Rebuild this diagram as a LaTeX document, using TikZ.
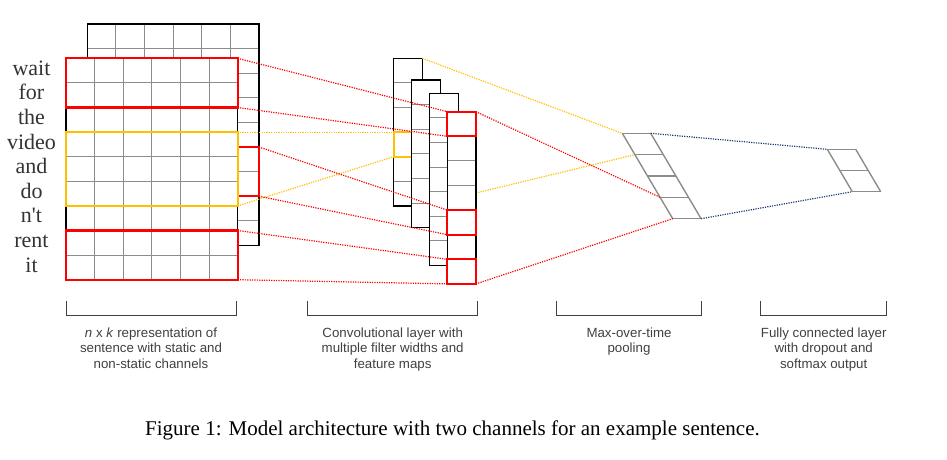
\documentclass[tikz,border=0pt]{standalone}
\usepackage{fontspec}
\setmainfont{Liberation Serif}
\setsansfont{Liberation Sans}
\usetikzlibrary{positioning,backgrounds}

\definecolor{boxred}{HTML}{FF0000}
\definecolor{boxgold}{HTML}{FFC000}
\definecolor{linkblue}{HTML}{1F3B73}
\definecolor{cellgray}{HTML}{8C8C8C}
\definecolor{labelgray}{HTML}{404040}

\tikzset{
    cell/.style={draw=cellgray, line width=1pt},
    hilite/.style={draw=#1, line width=2.2pt, inner sep=0pt, outer sep=0pt, minimum width=28.6pt, anchor=north west},
    link/.style={draw=#1, line width=1.2pt, dash pattern=on 1.2pt off 1.2pt},
    slab/.style={draw=cellgray, line width=1.4pt},
    bracket/.style={draw=labelgray, line width=1pt},
    stage/.style={font=\sffamily\fontsize{13.3}{15.5}\selectfont, text=labelgray, align=center, inner sep=0pt},
    word/.style={font=\fontsize{22}{24}\selectfont, text=black!80, anchor=base},
}

% name, x, y, columns, rows
\newcommand{\cellgrid}[5]{%
    \node[fill=white, inner sep=0pt, outer sep=0pt, anchor=north west, minimum width=#4*28.6pt, minimum height=#5*24.6pt] (#1) at (#2,#3) {} ;
    \foreach \r in {1,...,#5} \draw[cell] (#2,#3+\r*24.6) -- ++(#4*28.6,0) ;
    \foreach \c in {1,...,#4} \draw[cell] (#2+\c*28.6,#3) -- ++(0,#5*24.6) ;
    \draw[line width=1.2pt] (#1.north west) rectangle (#1.south east) ;
}

\begin{document}
\begin{tikzpicture}[x=1pt, y=-1pt]
    \useasboundingbox (0,0) rectangle (947,460) ;

    % sentence matrix, two channels
    \cellgrid{back}{87.3}{24}{6}{9}
    \node[hilite=boxred, minimum height=49.2pt] (bk) at (230.3,147) {} ;
    \cellgrid{front}{66}{58.3}{6}{9}
    \node[hilite=boxred, minimum width=171.6pt, minimum height=49.2pt] (f1) at (66,58.3) {} ;
    \node[hilite=boxgold, minimum width=171.6pt, minimum height=73.8pt] (fy) at (66,132.1) {} ;
    \node[hilite=boxred, minimum width=171.6pt, minimum height=49.2pt] (f2) at (66,230.5) {} ;

    \foreach \w [count=\i from 0] in {wait,for,the,video,and,do,n\textquotesingle t,rent,it}
        \node[word] (w\i) at (31.5,58.3+24.6*\i+17) {\w} ;

    % feature maps
    \cellgrid{map1}{393.7}{58.3}{1}{6}
    \node[hilite=boxgold, minimum height=24.6pt] (my) at (393.7,132.1) {} ;
    \cellgrid{map2}{411.7}{80}{1}{6}
    \cellgrid{map3}{429.7}{93.3}{1}{7}
    \cellgrid{map4}{447.3}{111.7}{1}{7}
    \node[hilite=boxred, minimum height=24.6pt] (c1) at (447.3,111.7) {} ;
    \node[hilite=boxred, minimum height=24.6pt] (c2) at (447.3,210.1) {} ;
    \node[hilite=boxred, minimum height=24.6pt] (c3) at (447.3,259.3) {} ;

    \draw[link=boxred] (f1.north east) -- (c1.north west) ;
    \draw[link=boxred] (f1.south east) -- (c1.south west) ;
    \draw[link=boxgold] (fy.north east) -- (my.north west) ;
    \draw[link=boxgold] (fy.south east) -- (my.south west) ;
    \draw[link=boxred] (bk.north east) -- (c2.north west) ;
    \draw[link=boxred] (bk.south east) -- (c2.south west) ;
    \draw[link=boxred] (f2.north east) -- (c3.north west) ;
    \draw[link=boxred] (f2.south east) -- (c3.south west) ;

    % max-over-time pooling
    \begin{scope}[shift={(622.3,133.3)}]
        \foreach \r in {0,...,4}
            \draw[slab] (12.6*\r,21.35*\r) coordinate (pool\r) -- ++(28.4,0) coordinate (poolr\r) ;
        \draw[slab] (pool0) -- (pool4) ;
        \draw[slab] (poolr0) -- (poolr4) ;
    \end{scope}

    % fully connected output
    \begin{scope}[shift={(827.3,149.3)}]
        \foreach \r in {0,...,2}
            \draw[slab] (12.5*\r,21.2*\r) coordinate (fc\r) -- ++(28.4,0) coordinate (fcr\r) ;
        \draw[slab] (fc0) -- (fc2) ;
        \draw[slab] (fcr0) -- (fcr2) ;
    \end{scope}

    \begin{pgfonlayer}{background}
        \draw[link=boxgold] (map1.south east) -- (pool1) ;
    \end{pgfonlayer}
    \draw[link=boxgold] (map1.north east) -- (pool0) ;
    \draw[link=boxred] (c1.north east) -- (pool3) ;
    \draw[link=boxred] (c3.south east) -- (pool4) ;
    \draw[link=linkblue] (poolr0) -- (fc0) ;
    \draw[link=linkblue] (poolr4) -- (fc2) ;

    % brackets and labels
    \draw[bracket] (66,300.5) -- (66,315) -- (236,315) -- (236,300.5) ;
    \draw[bracket] (307.7,300.5) -- (307.7,315) -- (477.7,315) -- (477.7,300.5) ;
    \draw[bracket] (556.7,300.5) -- (556.7,315) -- (701.3,315) -- (701.3,300.5) ;
    \draw[bracket] (760.7,300.5) -- (760.7,315) -- (886.7,315) -- (886.7,300.5) ;
    \coordinate (br1) at (151,315) ;
    \coordinate (br2) at (392.7,315) ;
    \coordinate (br3) at (629,315) ;
    \coordinate (br4) at (823.7,315) ;
    \node[stage, below=12.5pt of br1] (lab1) {\textit{n} x \textit{k} representation of\\sentence with static and\\non-static channels} ;
    \node[stage, below=12.5pt of br2] (lab2) {Convolutional layer with\\multiple filter widths and\\feature maps} ;
    \node[stage, below=12.5pt of br3] (lab3) {Max-over-time\\pooling} ;
    \node[stage, below=12.5pt of br4] (lab4) {Fully connected layer\\with dropout and\\softmax output} ;

    \node[font=\fontsize{21}{24}\selectfont, anchor=base] (fig) at (452.5,435.7) {Figure 1: Model architecture with two channels for an example sentence.} ;
\end{tikzpicture}
\end{document}
